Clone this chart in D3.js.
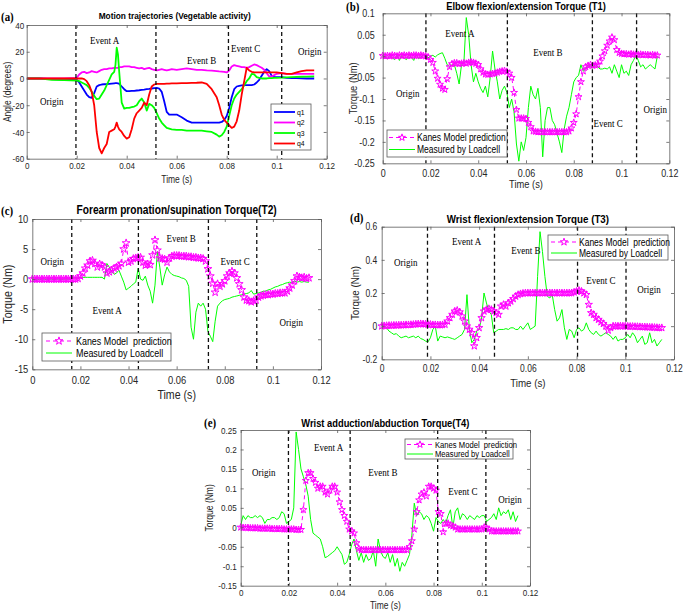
<!DOCTYPE html>
<html><head><meta charset="utf-8">
<script src="https://cdn.jsdelivr.net/npm/d3@7"></script>
<style>body{margin:0;background:#fff}svg{display:block}</style>
</head><body>
<svg id="chart" width="685" height="611"></svg>
<script>
// ---------- DATA ----------
const xTicks = [0, 0.02, 0.04, 0.06, 0.08, 0.1, 0.12];
const yTicksA = [-60, -40, -20, 0, 20, 40];
const yTicksT1 = [-0.25, -0.2, -0.15, -0.1, -0.05, 0, 0.05, 0.1];
const yTicksT2 = [-15, -10, -5, 0, 5, 10];
const yTicksT3 = [-0.2, 0, 0.2, 0.4, 0.6];
const yTicksT4 = [-0.15, -0.1, -0.05, 0, 0.05, 0.1, 0.15, 0.2, 0.25];

// (a) joint angle trajectories
const tA = [0,0.005,0.01,0.015,0.02,0.021,0.022,0.023,0.024,0.025,0.026,0.027,0.028,0.029,0.03,0.031,0.032,0.033,0.034,0.035,0.0355,0.036,0.0365,0.037,0.038,0.039,0.04,0.041,0.042,0.043,0.044,0.045,0.046,0.047,0.048,0.049,0.05,0.051,0.052,0.053,0.054,0.055,0.056,0.057,0.058,0.06,0.062,0.064,0.066,0.068,0.07,0.072,0.074,0.076,0.077,0.078,0.079,0.08,0.081,0.082,0.083,0.084,0.085,0.086,0.087,0.088,0.089,0.09,0.091,0.092,0.093,0.094,0.095,0.096,0.097,0.098,0.099,0.1,0.102,0.104,0.106,0.108,0.11,0.112,0.115];
const q1 = [0,0,-0.5,-0.8,-1,-3,-6,-9,-12,-14, -14.5,-11,-6,-5,-4.5,-4.3,-4.2,-4,-3.8,-3.6, -3.5,-3.5,-3.6,-4,-6,-8,-9.5,-9.5,-9.3,-9.2, -9,-8.8,-8.5,-8.3,-8,-7.8,-7.5,-7.2,-7,-7.5, -10,-17,-25,-27,-27,-27,-29,-31.5,-33,-33, -33,-33,-33,-33,-33,-32.5,-31,-28,-22,-14, -8,-6,-5.5,-5.2,-5,-5,-5,-5,-4.5,-3, -1,2,5,7,5.5,2,1,1,1,0.5, 0.3,0.2,0.1,0,0];
const q2 = [0,0,0,0,0.5,3,4.5,5,4,4.5, 5.5,5,4.5,5.5,6.5,7,7,7.5,7.5,8, 8,8,8,8.5,8.5,9,9,9,8.5,8.5, 8,7.5,8,7,7.5,8,7,6.5,6,6.5, 7,6.5,6,6.5,7,6.5,7,7.5,7,6.5, 6.5,6,5.8,5.5,5.3,5.2,5,4.5,6,9, 10,9.5,9,8.5,8.5,8,8.5,9.5,10.5,10, 9,8,6.5,4,1.5,1.5,2.5,3.5,4,3.5, 3.5,3.5,3.5,3.5,3.5];
const q3 = [0,0,-1,-1.3,-1.5,-2,-3,-4,-5,-7, -10,-13,-15.5,-15,-12,-9,-5,-1,3,5, 10,23,18,5,-18,-22.5,-22,-22,-21.5,-21, -20,-17,-15,-18,-24,-19,-20,-22,-26,-30, -33,-35,-37,-37.5,-38,-38.5,-38.5,-39,-39,-39, -39,-39.5,-40,-42,-43.5,-42.5,-40,-36,-28,-20, -15,-12,-10,-8,-5,-2,0,3.5,3,1, 0.5,0,0,0,0.2,0.3,0.4,0.5,0.6,0.8, 1,1.2,1.3,1.4,1.5];
const q4 = [0,0,0,0,0,0,0,-0.5,-2,-5, -10,-20,-40,-52,-56,-52,-49,-40,-39,-38, -36,-33,-36,-38,-40,-43,-45,-44,-38,-30, -26,-24,-22,-18,-20,-12,-6,-4.5,-4,-4, -4,-4,-3.8,-3.8,-3.7,-3.6,-3.5,-3.4,-3.3,-3.2, -3,-4,-8,-14,-20,-27,-31,-33,-35,-37, -36,-32,-24,-12,-2,8,6,5,4.5,4.5, 4.5,4.5,4.5,4.5,4.5,4.5,4.5,4.5,4,3.5, 3.5,4.5,5.5,6,6];

// torque sampling times (s)
const tT = [0,.001,.002,.003,.004,.005,.006,.007,.008,.009,.01,.011,.012,.013,.014,.015,.016,.017,.018,.019,.02,.021,.022,.023,.024,.025,.026,.027,.028,.029,.03,.031,.032,.033,.034,.035,.036,.037,.038,.039,.04,.041,.042,.043,.044,.045,.046,.047,.048,.049,.05,.051,.052,.053,.054,.055,.056,.057,.058,.059,.06,.061,.062,.063,.064,.065,.066,.067,.068,.069,.07,.071,.072,.073,.074,.075,.076,.077,.078,.079,.08,.081,.082,.083,.084,.085,.086,.087,.088,.089,.09,.091,.092,.093,.094,.095,.096,.097,.098,.099,.1,.101,.102,.103,.104,.105,.106,.107,.108,.109,.11,.111,.112,.113,.114,.115];

// (b) T1
const kanesT1 = [0.001,0,0.001,0,0.002,0.001,0,0.002,0.001,0.002, 0.001,0.002,0.001,0.002,0.002,0.001,0.002,0.001,0,-0.002, -0.008,-0.015,-0.035,-0.052,-0.066,-0.075,-0.078,-0.053,-0.025,-0.018, -0.016,-0.016,-0.018,-0.017,-0.016,-0.017,-0.015,-0.014,-0.015,-0.017, -0.02,-0.03,-0.038,-0.042,-0.043,-0.042,-0.041,-0.04,-0.038,-0.036, -0.035,-0.034,-0.036,-0.04,-0.05,-0.085,-0.125,-0.145,-0.145,-0.145, -0.146,-0.155,-0.165,-0.175,-0.176,-0.177,-0.177,-0.177,-0.177,-0.177, -0.177,-0.177,-0.177,-0.177,-0.177,-0.177,-0.177,-0.177,-0.175,-0.168, -0.155,-0.135,-0.095,-0.06,-0.035,-0.025,-0.022,-0.02,-0.022,-0.021, -0.02,-0.012,0,0.012,0.025,0.035,0.044,0.038,0.015,0.008, 0.006,0.005,0.005,0.004,0.005,0.004,0.004,0.003,0.004,0.003, 0.003,0.003,0.002,0.003,0.002,0.002];
const loadT1 = [0,-0.003,-0.006,0.002,-0.004,-0.008,0.003,-0.01,0.002,-0.005, -0.008,0.005,-0.003,-0.01,0.004,-0.006,-0.002,0.003,0,-0.004, 0,0.002,-0.002,0.003,0.006,0.008,-0.005,-0.02,-0.025,-0.02, -0.02,-0.04,-0.065,-0.02,-0.015,0.09,0.05,-0.02,-0.06,-0.04, -0.06,-0.075,-0.085,-0.07,-0.095,-0.05,0.012,-0.03,-0.06,-0.1, -0.08,-0.07,-0.085,-0.12,-0.1,-0.13,-0.205,-0.245,-0.2,-0.22, -0.19,-0.12,-0.07,-0.09,-0.1,-0.075,-0.12,-0.235,-0.15,-0.12, -0.12,-0.15,-0.16,-0.18,-0.2,-0.225,-0.17,-0.14,-0.12,-0.09, -0.06,-0.05,-0.045,-0.02,-0.035,-0.03,-0.02,-0.025,-0.028,-0.018, -0.025,-0.03,-0.03,-0.028,-0.03,-0.025,-0.04,-0.02,-0.035,-0.05, -0.02,-0.04,-0.035,-0.045,-0.02,-0.01,0.002,-0.01,-0.025,-0.02, -0.03,-0.025,-0.02,-0.025,-0.03,0];

// (c) T2
const kanesT2 = [0,0,0,0,0,0,0,0,0,0, 0,0,0,0,0,0,0,0,0,0.1, 0.5,1.0,1.8,2.3,3.0,3.1,2.6,2.0,2.5,2.3, 2.0,1.0,1.2,1.5,1.8,2.0,2.2,2.6,5.0,6.0, 2.8,3.0,3.4,3.5,3.6,3.6,2.8,2.3,2.5,2.4, 4.0,6.5,4.8,3.5,3.4,3.3,2.8,3.5,3.8,3.9, 3.9,3.9,3.8,3.8,3.8,3.7,3.7,3.6,3.6,3.5, 3.5,3.4,3.0,1.7,0.5,-0.7,-2.2,-0.8,-1.2,-0.8, -0.3,0.5,1.0,1.3,1.0,0.2,-0.8,-1.8,-3.0,-3.5, -3.6,-3.8,-3.6,-3.5,-3.0,-2.8,-2.7,-2.6,-2.6,-2.5, -2.5,-2.4,-2.4,-2.3,-2.3,-2.3,-2.0,-1.5,-1.0,-0.3, 0.5,0.3,0.2,0.3,0.1,0.2];
const loadT2 = [0,-0.1,0,-0.1,0,0,-0.1,0,0,-0.1, 0,0,-0.1,0,0,0,0,0.2,0.2,0.2, 0.3,0.3,0.3,0.3,0.3,0.3,0.3,0.3,0.3,0.3, 0.0,2.6,2.0,1.2,0.8,1.0,1.5,0.5,-0.5,-1.8, -1.5,-1.2,-0.8,-0.5,1.8,0.0,-0.2,0.5,-1.0,-2.0, -4.0,-1.0,4.6,2.0,-1.0,0.7,2.0,1.2,0.8,0.6, 0.5,0.4,0.2,0.1,-0.2,-1.2,-8.0,-10.0,-5.5,-4.0, -4.5,-4.0,-5.0,-8.7,-9.5,-10.4,-7.0,-4.5,-4.0,-3.6, -3.4,-3.3,-3.2,-3.0,-2.9,-2.8,-2.7,-2.6,-2.5,-2.4, -2.3,-1.9,-2.5,-2.4,-2.3,-2.2,-2.0,-2.0,-1.8,-1.7, -1.5,-1.3,-1.2,-1.0,-0.9,-0.7,-0.6,-0.5,-0.6,-0.3, -0.5,-0.4,-0.5,-0.4,-0.5,-0.5];

// (d) T3
const kanesT3 = [0,0.002,0.003,0.004,0.004,0.005,0.005,0.006,0.006,0.007, 0.008,0.008,0.009,0.01,0.012,0.013,0.014,0.013,0.012,0.01, 0.01,0.008,0.008,0.007,0.007,0.008,0.01,0.03,0.05,0.07, 0.09,0.095,0.085,0.06,0.03,0,-0.02,-0.04,-0.12,-0.07, -0.01,0.05,0.09,0.1,0.105,0.1,0.09,0.08,0.07,0.12, 0.13,0.12,0.14,0.15,0.165,0.18,0.19,0.195,0.198,0.2, 0.2,0.2,0.2,0.2,0.2,0.2,0.2,0.2,0.2,0.2, 0.2,0.2,0.2,0.2,0.2,0.2,0.2,0.2,0.2,0.205, 0.21,0.215,0.21,0.2,0.19,0.13,0.08,0.07,0.05,0.04, 0.025,0.015,0,-0.025,-0.01,0,0,0,0,0, 0,-0.001,-0.002,-0.002,-0.003,-0.003,-0.004,-0.005,-0.005,-0.006, -0.007,-0.007,-0.008,-0.009,-0.01,-0.01];
const loadT3 = [0,0.005,-0.01,-0.03,-0.04,-0.05,-0.045,-0.06,-0.07,-0.065, -0.06,-0.07,-0.065,-0.06,-0.07,-0.06,-0.075,-0.08,-0.09,-0.095, -0.07,-0.02,0,-0.09,-0.06,-0.065,-0.07,-0.065,-0.07,-0.075, -0.08,-0.07,-0.06,-0.05,-0.02,0.19,-0.02,-0.1,-0.08,-0.03, -0.02,0.05,0.2,0.14,0.09,0.07,-0.04,-0.03,-0.02,-0.02, -0.02,-0.015,-0.02,-0.01,-0.01,-0.02,-0.02,0,-0.02,0, 0.02,-0.02,-0.01,0,0.3,0.57,0.45,0.3,0.18,0.17, 0.19,0.1,0.03,0.05,0.1,-0.01,-0.08,-0.02,-0.03,-0.07, -0.02,-0.01,-0.03,-0.02,0.02,-0.02,-0.04,-0.05,-0.03,-0.05, -0.06,-0.05,-0.04,-0.05,-0.06,-0.08,-0.06,-0.09,-0.08,-0.08, -0.07,-0.05,-0.07,-0.04,-0.06,-0.1,-0.08,-0.06,-0.11,-0.1, -0.04,-0.1,-0.08,-0.12,-0.1,-0.08];

// (e) T4
const kanesT4 = [0,-0.001,-0.001,-0.001,-0.002,-0.002,-0.002,-0.002,-0.003,-0.003, -0.003,-0.003,-0.003,-0.004,-0.004,-0.004,-0.004,-0.004,-0.005,-0.005, -0.005,-0.005,-0.005,-0.006,-0.006,-0.006,0.045,0.12,0.14,0.14, 0.125,0.115,0.1,0.105,0.105,0.09,0.085,0.095,0.105,0.105, 0.09,0.065,0.045,0.03,0.015,-0.005,-0.01,-0.015,-0.04,-0.055, -0.058,-0.058,-0.058,-0.058,-0.058,-0.058,-0.058,-0.058,-0.058,-0.058, -0.058,-0.058,-0.058,-0.058,-0.058,-0.058,-0.058,-0.058,-0.058,-0.058, -0.05,-0.035,-0.005,0.04,0.07,0.085,0.09,0.08,0.105,0.105, 0.1,0.095,0.04,0.035,-0.012,0.01,0.01,0.005,0.003,0, -0.005,-0.005,-0.005,-0.005,-0.005,-0.005,-0.005,-0.005,-0.005,-0.005, -0.005,0,-0.002,-0.005,-0.01,-0.01,-0.01,-0.01,-0.01,-0.01, -0.01,-0.01,-0.01,-0.01,-0.01,-0.01];
const loadT4 = [0.005,0.03,0.02,0.03,0.025,0.025,0.03,0.025,0.03,0.025, 0.01,0.02,0.02,0.025,0.025,0.02,0.025,0.04,0.035,0.01, 0.015,0.02,0.05,0.245,0.2,0.15,0.13,0.11,0.08,0.02, -0.015,-0.02,-0.025,-0.03,-0.05,-0.078,-0.075,-0.07,-0.065,-0.06, -0.05,-0.06,-0.07,-0.095,-0.09,-0.07,-0.045,-0.03,-0.06,-0.085, -0.065,-0.09,-0.07,-0.085,-0.08,-0.06,-0.1,-0.03,-0.06,-0.075, -0.08,-0.065,-0.09,-0.07,-0.1,-0.08,-0.113,-0.09,-0.1,-0.085, -0.07,-0.02,0.062,0.03,0.04,0.035,0.02,0.03,0.025,0.01, -0.01,0.025,0.015,0.01,0.02,0.01,0.03,0.045,0,0.04, 0.05,0.02,0.035,0.03,0.02,0.03,0.025,0.02,0.03,0.025, 0.03,0.03,0.015,0.02,0.025,0.035,0.02,0.05,0.03,0.04, 0.035,0.045,0.02,0.04,0.015,0.03];

// event boundaries (s)
const eventsA = [0.0197, 0.0517, 0.0807, 0.102];
const eventsT1 = [0.0181, 0.0522, 0.0878, 0.1063];
const eventsT2 = [0.0164, 0.0441, 0.0732, 0.0933];
const eventsT3 = [0.0188, 0.0463, 0.0804, 0.1003];
const eventsT4 = [0.0198, 0.0454, 0.0817, 0.1017];

// phase annotations [text, time, value]
const notesA = [["Event A",0.0312,28.1],["Event B",0.070,13.1],["Event C",0.0876,22.8],["Origin",0.010,-17.5],["Origin",0.1132,19.9]];
const notesT1 = [["Event A",0.0323,0.053],["Event B",0.0692,0.009],["Event C",0.0944,-0.157],["Origin",0.0105,-0.087],["Origin",0.1141,-0.124]];
const notesT2 = [["Origin",0.0083,3],["Event A",0.0311,-5.3],["Event B",0.0619,6.7],["Event C",0.0843,3],["Origin",0.1076,-7.2]];
const notesT3 = [["Event A",0.0349,0.509],["Event B",0.0592,0.455],["Event C",0.090,0.273],["Origin",0.0099,0.382],["Origin",0.1097,0.224]];
const notesT4 = [["Event A",0.0365,0.204],["Event B",0.059,0.142],["Event C",0.0922,0.091],["Origin",0.0096,0.14],["Origin",0.1117,0.071]];

const legendKanes = "Kanes Model prediction";
const legendKanes2 = "Kanes Model  prediction";
const legendLoad = "Measured by Loadcell";

// ---------- DRAWING ----------
const SANS = "'Liberation Sans', Arial, Helvetica, sans-serif";
const SERIF = "'Liberation Serif', 'Times New Roman', serif";
const SX = 0.85;
const MAG = "#ff00ff", GRN = "#00ff00";
const svg = d3.select("#chart");
const fmt = d => String(+d.toFixed(4));

function txt(g, x, y, s, o) {
  return g.append("text")
    .attr("transform", `translate(${x},${y})${o.rot ? " rotate(-90)" : ""} scale(${o.sx ?? SX},1)`)
    .attr("text-anchor", o.anchor || "middle")
    .attr("dy", o.dy ?? "0.35em")
    .attr("font-family", o.font || SANS)
    .attr("font-size", o.size)
    .attr("font-weight", o.weight || "normal")
    .attr("fill", o.fill || "#000")
    .style("white-space", "pre")
    .text(s);
}

function drawPanel(p) {
  const g = svg.append("g");
  const x = d3.scaleLinear().domain([0, 0.12]).range([p.l, p.r]);
  const y = d3.scaleLinear().domain(p.yDom).range([p.b, p.t]);
  const cid = "clip-" + p.id;
  g.append("clipPath").attr("id", cid).append("rect")
    .attr("x", p.l).attr("y", p.t).attr("width", p.r - p.l).attr("height", p.b - p.t);

  // data
  const dg = g.append("g").attr("clip-path", `url(#${cid})`);
  p.series.forEach(s => {
    const pts = s.t.map((tt, i) => [tt, s.v[i]]);
    dg.append("path").datum(pts)
      .attr("d", d3.line().x(d => x(d[0])).y(d => y(d[1])))
      .attr("fill", "none").attr("stroke", s.color).attr("stroke-width", s.w)
      .attr("stroke-dasharray", s.dash || null).attr("stroke-linejoin", "round");
    if (s.star) {
      g.append("g").selectAll("path").data(pts).join("path")
        .attr("transform", d => `translate(${x(d[0])},${y(d[1])})`)
        .attr("d", d3.symbol(d3.symbolStar, s.star)())
        .attr("fill", "none").attr("stroke", s.color).attr("stroke-width", 1);
    }
  });

  // event boundaries
  p.events.forEach(ev => g.append("line")
    .attr("x1", x(ev)).attr("x2", x(ev)).attr("y1", p.t).attr("y2", p.b)
    .attr("stroke", "#111").attr("stroke-width", 1.3).attr("stroke-dasharray", "4,3"));

  // axes (box with inward ticks)
  const gB = g.append("g").attr("transform", `translate(0,${p.b})`)
    .call(d3.axisBottom(x).tickValues(xTicks).tickSize(-3).tickSizeOuter(0).tickPadding(p.xpad).tickFormat(fmt));
  const gL = g.append("g").attr("transform", `translate(${p.l},0)`)
    .call(d3.axisLeft(y).tickValues(p.yTicks).tickSize(-3).tickSizeOuter(0).tickPadding(p.ypad).tickFormat(fmt));
  g.append("g").attr("transform", `translate(0,${p.t})`)
    .call(d3.axisTop(x).tickValues(xTicks).tickSize(-3).tickSizeOuter(0).tickFormat(""));
  g.append("g").attr("transform", `translate(${p.r},0)`)
    .call(d3.axisRight(y).tickValues(p.yTicks).tickSize(-3).tickSizeOuter(0).tickFormat(""));
  g.selectAll(".domain, .tick line").attr("stroke", "#5a5a5a").attr("stroke-width", 0.8);
  gB.selectAll("text").each(function () {
    const s = d3.select(this); const yy = +s.attr("y");
    s.attr("y", null).attr("transform", `translate(0,${yy}) scale(${SX},1)`);
  });
  gL.selectAll("text").each(function () {
    const s = d3.select(this); const xx = +s.attr("x");
    s.attr("x", null).attr("transform", `translate(${xx},0) scale(${SX},1)`);
  });
  [gB, gL].forEach(a => a.selectAll("text").attr("font-family", SANS).attr("font-size", p.tick).attr("fill", "#262626"));

  // annotations
  p.notes.forEach(n => txt(g, x(n[1]), y(n[2]), n[0], { size: p.noteSize, font: SERIF, sx: 0.9 }));

  // titles / labels
  txt(g, (p.l + p.r) / 2 + (p.titleDx || 0), p.titleY, p.title, { size: p.titleSize, weight: "bold" });
  txt(g, (p.l + p.r) / 2, p.xlabY, "Time (s)", { size: p.labSize, fill: "#262626" });
  txt(g, p.ylabX, (p.t + p.b) / 2, p.ylab, { size: p.labSize, rot: true, fill: "#262626" });
  txt(g, p.letterX, p.letterY, p.letter, { size: 11.5, weight: "bold", font: SERIF, anchor: "start", sx: 0.95 });

  // legend
  const L = p.legend;
  const lg = g.append("g");
  lg.append("rect").attr("x", L.x).attr("y", L.y).attr("width", L.w).attr("height", L.h)
    .attr("fill", "#fff").attr("stroke", "#5a5a5a").attr("stroke-width", 0.8);
  L.items.forEach((it, i) => {
    const ry = L.rows[i];
    lg.append("line").attr("x1", L.x1).attr("x2", L.x2).attr("y1", ry).attr("y2", ry)
      .attr("stroke", it.color).attr("stroke-width", it.w).attr("stroke-dasharray", it.dash || null);
    if (it.star) {
      lg.append("path").attr("transform", `translate(${(L.x1 + L.x2) / 2},${ry})`)
        .attr("d", d3.symbol(d3.symbolStar, it.star)())
        .attr("fill", "none").attr("stroke", it.color).attr("stroke-width", 1);
    }
    txt(lg, L.tx, ry, it.label, { size: L.size, anchor: "start" });
  });
}

const kStyle = (t, v, star) => ({ t, v, color: MAG, w: 1, dash: "4,3", star });
const gStyle = (t, v) => ({ t, v, color: GRN, w: 1 });

// (a)
drawPanel({
  id: "a", l: 26.7, r: 326.7, t: 25, b: 158.7, yDom: [-60, 40], yTicks: yTicksA,
  tick: 9.5, xpad: 4, ypad: 2.5,
  series: [
    { t: tA, v: q1, color: "#0000ff", w: 1.8 },
    { t: tA, v: q2, color: MAG, w: 1.8 },
    { t: tA, v: q3, color: GRN, w: 1.8 },
    { t: tA, v: q4, color: "#ff0000", w: 1.8 }
  ],
  events: eventsA, notes: notesA, noteSize: 10,
  title: "Motion trajectories (Vegetable activity)", titleY: 16, titleSize: 9.8, titleDx: -2,
  xlabY: 179, labSize: 10, ylab: "Angle (degrees)", ylabX: 7,
  letter: "(a)", letterX: 1, letterY: 17,
  legend: { x: 271, y: 104, w: 40, h: 46, x1: 274, x2: 295, tx: 297, size: 8,
    rows: [112, 122.5, 133, 143.5],
    items: [
      { label: "q1", color: "#0000ff", w: 1.8 }, { label: "q2", color: MAG, w: 1.8 },
      { label: "q3", color: GRN, w: 1.8 }, { label: "q4", color: "#ff0000", w: 1.8 }
    ] }
});

// (b)
drawPanel({
  id: "b", l: 382.7, r: 669.3, t: 13.3, b: 163.3, yDom: [-0.25, 0.1], yTicks: yTicksT1,
  tick: 10.5, xpad: 6, ypad: 8,
  series: [gStyle(tT, loadT1), kStyle(tT, kanesT1, 15)],
  events: eventsT1, notes: notesT1, noteSize: 10,
  title: "Elbow flexion/extension Torque (T1)", titleY: 6.5, titleSize: 11,
  xlabY: 184, labSize: 11, ylab: "Torque (Nm)", ylabX: 353,
  letter: "(b)", letterX: 346, letterY: 7,
  legend: { x: 387, y: 130, w: 120, h: 27, x1: 389, x2: 415, tx: 417, size: 10,
    rows: [137.5, 149.5],
    items: [
      { label: legendKanes, color: MAG, w: 1, dash: "4,3", star: 15 },
      { label: legendLoad, color: GRN, w: 1 }
    ] }
});

// (c)
drawPanel({
  id: "c", l: 32.3, r: 321, t: 219, b: 369.3, yDom: [-15, 10], yTicks: yTicksT2,
  tick: 11, xpad: 7, ypad: 4,
  series: [gStyle(tT, loadT2), kStyle(tT, kanesT2, 19)],
  events: eventsT2, notes: notesT2, noteSize: 10,
  title: "Forearm pronation/supination Torque(T2)", titleY: 210, titleSize: 12,
  xlabY: 395, labSize: 12.5, ylab: "Torque (Nm)", ylabX: 8,
  letter: "(c)", letterX: 1, letterY: 211,
  legend: { x: 42, y: 333, w: 129, h: 28, x1: 46, x2: 72, tx: 76, size: 10.5,
    rows: [341, 353],
    items: [
      { label: legendKanes2, color: MAG, w: 1, dash: "4,3", star: 19 },
      { label: legendLoad, color: GRN, w: 1 }
    ] }
});

// (d)
drawPanel({
  id: "d", l: 381.7, r: 674, t: 226.7, b: 359.3, yDom: [-0.2, 0.6], yTicks: yTicksT3,
  tick: 10, xpad: 6, ypad: 4.5,
  series: [gStyle(tT, loadT3), kStyle(tT, kanesT3, 17)],
  events: eventsT3, notes: notesT3, noteSize: 10,
  title: "Wrist flexion/extension Torque (T3)", titleY: 219, titleSize: 11.5,
  xlabY: 383, labSize: 11.5, ylab: "Torque (Nm)", ylabX: 355,
  letter: "(d)", letterX: 350, letterY: 218,
  legend: { x: 548, y: 235, w: 120, h: 25, x1: 551, x2: 577, tx: 579, size: 10,
    rows: [242, 253],
    items: [
      { label: legendKanes2, color: MAG, w: 1, dash: "4,3", star: 17 },
      { label: legendLoad, color: GRN, w: 1 }
    ] }
});

// (e)
drawPanel({
  id: "e", l: 240.7, r: 530, t: 430, b: 585.7, yDom: [-0.15, 0.25], yTicks: yTicksT4,
  tick: 9.5, xpad: 3.5, ypad: 4,
  series: [gStyle(tT, loadT4), kStyle(tT, kanesT4, 15)],
  events: eventsT4, notes: notesT4, noteSize: 10,
  title: "Wrist adduction/abduction Torque(T4)", titleY: 423, titleSize: 11,
  xlabY: 605.5, labSize: 10, ylab: "Torque (Nm)", ylabX: 209,
  letter: "(e)", letterX: 204, letterY: 423,
  legend: { x: 405, y: 439, w: 108, h: 20, x1: 407, x2: 433, tx: 435, size: 9,
    rows: [444.5, 454],
    items: [
      { label: legendKanes2, color: MAG, w: 1, dash: "4,3", star: 15 },
      { label: legendLoad, color: GRN, w: 1 }
    ] }
});
</script>
</body></html>
